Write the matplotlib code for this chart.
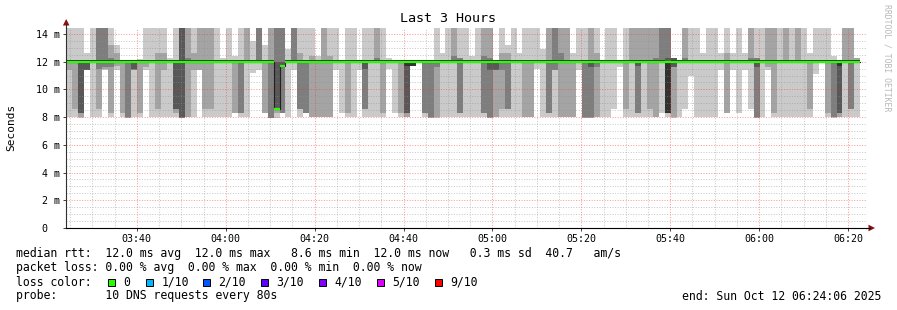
import matplotlib
matplotlib.use("Agg")
import matplotlib.pyplot as plt
import numpy as np
from matplotlib.patches import Rectangle, Polygon
from matplotlib.lines import Line2D

W, H = 897, 310
MONO = "DejaVu Sans Mono"

# ---------------- data ----------------
TITLE = "Last 3 Hours"
START_HMS = (3, 24, 6)          # graph start
SPAN_MIN = 180                  # 3 hours
STEP_S = 80                     # probe step
Y_MAX_MS = 14.45

# sorted 10 ping RTTs per step (ms)
PINGS_MS = [
    [8.0, 11.4, 11.9, 11.9, 11.9, 12.1, 12.1, 12.1, 12.1, 14.6],
    [8.0, 8.6, 11.9, 11.9, 11.9, 12.1, 12.1, 12.1, 12.1, 14.6],
    [7.9, 8.0, 8.3, 8.3, 11.9, 12.1, 12.1, 12.1, 12.1, 14.6],
    [11.4, 11.4, 11.4, 11.4, 11.9, 12.1, 12.1, 12.1, 12.1, 12.6],
    [8.0, 11.9, 11.9, 11.9, 11.9, 12.1, 12.1, 12.1, 12.1, 14.6],
    [8.0, 8.6, 11.5, 11.9, 11.9, 12.1, 12.1, 14.6, 14.6, 14.6],
    [11.4, 11.5, 11.6, 11.9, 11.9, 12.1, 12.1, 14.6, 14.6, 14.6],
    [8.0, 8.3, 11.6, 11.9, 11.9, 12.1, 12.1, 12.3, 13.2, 14.6],
    [11.4, 11.7, 11.9, 11.9, 11.9, 12.1, 12.1, 12.1, 12.6, 13.2],
    [8.0, 8.3, 11.9, 11.9, 11.9, 12.1, 12.1, 12.1, 12.1, 12.1],
    [7.9, 7.9, 8.0, 11.9, 11.9, 12.1, 12.1, 12.1, 12.1, 12.1],
    [8.0, 11.4, 11.4, 11.5, 11.9, 12.1, 12.1, 12.1, 12.1, 12.1],
    [8.0, 8.3, 11.9, 11.9, 11.9, 12.1, 12.1, 12.1, 12.1, 12.2],
    [11.4, 11.6, 11.9, 11.9, 11.9, 12.1, 12.1, 12.1, 12.1, 14.6],
    [8.0, 11.9, 11.9, 11.9, 11.9, 12.1, 12.1, 12.1, 12.1, 14.6],
    [8.0, 8.6, 11.9, 11.9, 11.9, 12.1, 12.1, 12.1, 12.6, 14.6],
    [8.0, 11.4, 11.9, 11.9, 11.9, 12.1, 12.1, 12.1, 12.6, 14.6],
    [8.0, 11.9, 11.9, 11.9, 11.9, 12.1, 12.1, 12.1, 12.1, 12.3],
    [8.0, 8.3, 8.6, 8.6, 11.9, 12.1, 12.1, 12.1, 12.1, 14.6],
    [7.9, 7.9, 7.9, 8.0, 11.9, 12.1, 14.6, 14.6, 14.6, 14.6],
    [8.0, 8.0, 11.9, 11.9, 11.9, 12.1, 12.1, 12.3, 14.6, 14.6],
    [8.0, 11.4, 11.9, 11.9, 11.9, 12.1, 12.1, 12.1, 12.6, 14.6],
    [11.4, 11.4, 11.9, 11.9, 11.9, 12.1, 12.1, 12.1, 14.6, 14.6],
    [8.0, 8.6, 11.9, 11.9, 11.9, 12.1, 12.1, 12.1, 14.6, 14.6],
    [8.0, 8.6, 11.9, 11.9, 11.9, 12.1, 12.1, 12.1, 14.6, 14.6],
    [8.0, 11.9, 11.9, 11.9, 11.9, 12.1, 12.1, 12.1, 12.1, 14.6],
    [8.0, 11.9, 11.9, 11.9, 11.9, 12.1, 12.1, 12.1, 12.1, 12.3],
    [8.0, 11.9, 11.9, 11.9, 11.9, 12.1, 12.1, 12.1, 12.1, 14.6],
    [8.3, 8.3, 11.9, 11.9, 11.9, 12.1, 12.1, 12.1, 12.1, 12.4],
    [8.0, 8.3, 8.3, 11.9, 11.9, 12.1, 12.1, 12.1, 12.1, 14.6],
    [8.0, 11.9, 11.9, 11.9, 11.9, 12.1, 12.1, 12.1, 14.6, 14.6],
    [11.2, 11.9, 11.9, 11.9, 11.9, 12.1, 12.1, 12.1, 12.1, 13.5],
    [11.4, 11.9, 11.9, 11.9, 11.9, 12.1, 12.1, 14.6, 14.6, 14.6],
    [8.3, 8.3, 11.9, 11.9, 11.9, 12.1, 12.1, 12.1, 12.1, 13.2],
    [7.9, 7.9, 7.95, 11.9, 11.9, 12.1, 12.1, 12.1, 14.6, 14.6],
    [7.9, 8.3, 8.6, 8.6, 8.6, 8.6, 12.0, 14.6, 14.6, 14.6],
    [8.3, 8.3, 8.3, 11.7, 11.7, 11.7, 12.0, 14.6, 14.6, 14.6],
    [8.0, 11.9, 11.9, 11.9, 11.9, 12.1, 12.1, 12.1, 12.1, 12.9],
    [11.4, 11.9, 11.9, 11.9, 11.9, 12.1, 12.1, 14.6, 14.6, 14.6],
    [8.0, 8.6, 8.6, 11.9, 11.9, 12.1, 12.1, 12.1, 12.6, 14.6],
    [8.3, 8.3, 8.3, 11.9, 11.9, 12.1, 12.1, 12.1, 12.1, 14.6],
    [8.0, 8.0, 11.9, 11.9, 11.9, 12.1, 12.1, 12.1, 12.4, 14.6],
    [8.0, 8.0, 11.9, 11.9, 11.9, 12.1, 12.1, 12.1, 12.1, 12.4],
    [8.0, 8.0, 11.9, 11.9, 11.9, 12.1, 12.1, 12.1, 14.6, 14.6],
    [8.0, 8.0, 11.9, 11.9, 11.9, 12.1, 12.1, 12.1, 12.4, 14.6],
    [11.4, 11.9, 11.9, 11.9, 11.9, 12.1, 12.1, 12.1, 12.1, 14.6],
    [8.3, 11.9, 11.9, 11.9, 11.9, 12.1, 12.1, 12.1, 12.1, 12.1],
    [8.0, 8.3, 11.9, 11.9, 11.9, 12.1, 12.1, 12.1, 12.1, 14.6],
    [8.0, 11.9, 11.9, 11.9, 11.9, 12.1, 12.1, 12.1, 12.1, 14.6],
    [11.4, 11.9, 11.9, 11.9, 11.9, 12.1, 12.1, 12.1, 12.1, 12.1],
    [8.0, 8.6, 8.6, 11.5, 11.9, 12.1, 12.1, 12.1, 12.1, 14.6],
    [8.0, 11.9, 11.9, 11.9, 11.9, 12.1, 12.1, 12.1, 12.1, 14.6],
    [8.0, 11.9, 11.9, 11.9, 11.9, 12.1, 12.1, 12.3, 14.6, 14.6],
    [8.0, 8.3, 11.9, 11.9, 11.9, 12.1, 12.1, 12.1, 12.1, 14.6],
    [11.5, 11.9, 11.9, 11.9, 11.9, 12.1, 12.1, 12.1, 12.1, 12.3],
    [8.3, 11.9, 11.9, 11.9, 11.9, 12.1, 12.1, 12.1, 12.1, 12.1],
    [8.0, 8.3, 11.9, 11.9, 11.9, 12.1, 12.1, 12.1, 12.1, 12.1],
    [8.0, 8.0, 8.3, 8.3, 11.7, 12.1, 12.1, 12.1, 12.1, 12.1],
    [11.7, 11.7, 11.7, 11.7, 11.7, 12.1, 12.1, 12.1, 12.1, 12.1],
    [11.9, 11.9, 11.9, 11.9, 11.9, 12.1, 12.1, 12.1, 12.1, 12.1],
    [8.0, 8.3, 8.3, 11.9, 11.9, 12.1, 12.1, 12.1, 12.1, 12.1],
    [7.9, 7.9, 8.0, 11.9, 11.9, 12.1, 12.1, 12.1, 12.1, 12.1],
    [7.9, 8.0, 11.6, 11.9, 11.9, 12.1, 12.1, 12.1, 12.1, 14.6],
    [8.0, 11.9, 11.9, 11.9, 11.9, 12.1, 12.1, 12.1, 12.1, 12.6],
    [8.0, 11.9, 11.9, 11.9, 11.9, 12.1, 12.1, 12.1, 12.1, 14.6],
    [8.0, 11.9, 11.9, 11.9, 11.9, 12.1, 12.1, 12.4, 14.6, 14.6],
    [8.0, 8.3, 8.3, 11.9, 11.9, 12.1, 12.1, 12.3, 12.3, 14.6],
    [8.0, 11.9, 11.9, 11.9, 11.9, 12.1, 12.1, 12.1, 12.1, 14.6],
    [8.0, 11.9, 11.9, 11.9, 11.9, 12.1, 12.1, 12.1, 12.1, 12.4],
    [8.0, 11.9, 11.9, 11.9, 11.9, 12.1, 12.1, 12.1, 12.1, 14.6],
    [8.0, 8.3, 8.3, 11.9, 11.9, 12.1, 12.1, 12.4, 14.6, 14.6],
    [7.9, 7.9, 8.0, 11.4, 11.9, 12.1, 12.1, 12.3, 14.6, 14.6],
    [8.0, 8.0, 11.4, 11.4, 11.9, 12.1, 12.1, 12.1, 12.1, 12.1],
    [8.0, 8.6, 11.4, 11.9, 11.9, 12.1, 12.1, 12.1, 12.6, 14.6],
    [8.0, 8.6, 8.6, 11.9, 11.9, 12.1, 12.1, 12.1, 12.6, 13.2],
    [8.0, 11.9, 11.9, 11.9, 11.9, 12.1, 12.1, 12.1, 12.1, 14.6],
    [8.0, 11.9, 11.9, 11.9, 11.9, 12.1, 12.1, 12.1, 12.1, 12.6],
    [8.0, 8.0, 11.9, 11.9, 11.9, 12.1, 12.1, 12.1, 12.1, 14.6],
    [8.0, 8.0, 11.9, 11.9, 11.9, 12.1, 12.1, 12.1, 12.1, 14.6],
    [11.5, 11.9, 11.9, 11.9, 11.9, 12.1, 12.1, 12.1, 12.1, 14.6],
    [8.0, 11.9, 11.9, 11.9, 11.9, 12.1, 12.1, 12.1, 12.1, 12.9],
    [8.0, 8.3, 8.3, 11.9, 11.9, 12.1, 12.1, 12.1, 14.6, 14.6],
    [8.0, 11.4, 11.4, 11.9, 11.9, 12.1, 12.1, 14.6, 14.6, 14.6],
    [8.0, 8.0, 11.9, 11.9, 11.9, 12.1, 12.1, 12.6, 14.6, 14.6],
    [8.0, 8.0, 11.9, 11.9, 11.9, 12.1, 12.1, 12.1, 14.6, 14.6],
    [8.0, 8.0, 11.9, 11.9, 11.9, 12.1, 12.1, 12.1, 12.1, 12.6],
    [11.4, 11.9, 11.9, 11.9, 11.9, 12.1, 12.1, 12.1, 12.1, 14.6],
    [7.9, 7.9, 8.0, 11.9, 11.9, 12.1, 12.1, 12.1, 12.1, 14.6],
    [7.9, 7.9, 8.0, 11.6, 11.9, 12.1, 12.1, 12.1, 14.6, 14.6],
    [8.0, 8.0, 11.6, 11.9, 11.9, 12.1, 12.1, 12.1, 12.6, 14.6],
    [8.0, 11.9, 11.9, 11.9, 11.9, 12.1, 12.1, 12.1, 12.1, 12.1],
    [8.0, 11.9, 11.9, 11.9, 11.9, 12.1, 12.1, 12.1, 12.1, 14.6],
    [8.6, 11.9, 11.9, 11.9, 11.9, 12.1, 12.1, 12.1, 12.1, 14.6],
    [11.6, 11.9, 11.9, 11.9, 11.9, 12.1, 12.1, 12.1, 12.1, 12.1],
    [8.0, 8.6, 11.9, 11.9, 11.9, 12.1, 12.1, 12.1, 12.1, 14.6],
    [8.0, 11.9, 11.9, 11.9, 11.9, 12.1, 12.1, 12.1, 14.6, 14.6],
    [8.0, 8.3, 8.3, 11.7, 11.9, 12.1, 12.1, 12.1, 14.6, 14.6],
    [8.0, 11.9, 11.9, 11.9, 11.9, 12.1, 12.1, 12.1, 14.6, 14.6],
    [8.0, 8.6, 11.9, 11.9, 11.9, 12.1, 12.1, 12.1, 14.6, 14.6],
    [8.0, 8.0, 11.9, 11.9, 11.9, 12.1, 12.1, 12.3, 14.6, 14.6],
    [8.3, 11.9, 11.9, 11.9, 11.9, 12.1, 12.1, 14.6, 14.6, 14.6],
    [8.0, 8.3, 8.3, 8.3, 8.3, 11.9, 12.3, 14.6, 14.6, 14.6],
    [7.9, 8.0, 11.6, 11.6, 11.9, 12.1, 12.3, 12.3, 12.3, 12.3],
    [8.0, 11.9, 11.9, 11.9, 11.9, 12.1, 12.1, 12.1, 12.1, 12.1],
    [8.6, 11.9, 11.9, 11.9, 11.9, 12.1, 12.1, 12.3, 14.6, 14.6],
    [11.0, 11.9, 11.9, 11.9, 11.9, 12.1, 12.1, 12.1, 12.1, 14.6],
    [8.0, 11.9, 11.9, 11.9, 11.9, 12.1, 12.1, 12.1, 12.1, 14.6],
    [8.0, 11.9, 11.9, 11.9, 11.9, 12.1, 12.1, 12.1, 12.1, 12.6],
    [8.0, 11.9, 11.9, 11.9, 11.9, 12.1, 12.1, 12.1, 12.1, 14.6],
    [8.0, 11.9, 11.9, 11.9, 11.9, 12.1, 12.1, 12.1, 12.1, 14.6],
    [11.4, 11.9, 11.9, 11.9, 11.9, 12.1, 12.1, 12.1, 12.1, 12.6],
    [8.3, 8.3, 11.9, 11.9, 11.9, 12.1, 12.1, 12.1, 12.6, 14.6],
    [11.4, 11.9, 11.9, 11.9, 11.9, 12.1, 12.1, 12.1, 12.1, 12.6],
    [8.3, 11.9, 11.9, 11.9, 11.9, 12.1, 12.1, 12.1, 12.1, 14.6],
    [11.4, 11.9, 11.9, 11.9, 11.9, 12.1, 12.1, 12.1, 12.1, 12.6],
    [8.6, 11.9, 11.9, 11.9, 11.9, 12.1, 12.1, 12.3, 14.6, 14.6],
    [7.9, 7.9, 8.0, 11.6, 11.9, 12.1, 12.1, 12.3, 12.3, 14.6],
    [8.0, 11.9, 11.9, 11.9, 11.9, 12.1, 12.1, 12.1, 12.1, 14.6],
    [11.4, 11.6, 11.9, 11.9, 11.9, 12.1, 12.1, 12.1, 14.6, 14.6],
    [8.0, 8.3, 11.9, 11.9, 11.9, 12.1, 12.1, 12.1, 14.6, 14.6],
    [8.0, 11.9, 11.9, 11.9, 11.9, 12.1, 12.1, 12.1, 12.1, 14.6],
    [8.0, 11.9, 11.9, 11.9, 11.9, 12.1, 12.1, 12.1, 14.6, 14.6],
    [8.0, 11.9, 11.9, 11.9, 11.9, 12.1, 12.1, 12.1, 12.1, 14.6],
    [8.0, 11.9, 11.9, 11.9, 11.9, 12.1, 12.1, 12.1, 14.6, 14.6],
    [8.0, 11.9, 11.9, 11.9, 11.9, 12.1, 12.1, 12.1, 12.1, 14.6],
    [8.0, 8.6, 11.9, 11.9, 11.9, 12.1, 12.1, 12.1, 12.1, 12.6],
    [11.1, 11.9, 11.9, 11.9, 11.9, 12.1, 12.1, 12.1, 12.1, 14.6],
    [11.9, 11.9, 11.9, 11.9, 11.9, 12.1, 12.1, 12.1, 12.1, 14.6],
    [8.0, 8.3, 11.9, 11.9, 11.9, 12.1, 12.1, 12.1, 12.1, 14.6],
    [7.9, 8.0, 8.0, 11.9, 11.9, 12.1, 12.1, 12.1, 12.1, 12.4],
    [8.0, 8.0, 8.3, 8.3, 11.7, 12.1, 12.1, 12.1, 12.1, 12.1],
    [8.0, 11.9, 11.9, 11.9, 11.9, 12.1, 12.1, 12.1, 14.6, 14.6],
    [8.0, 8.6, 8.6, 11.9, 11.9, 12.1, 12.1, 12.1, 14.6, 14.6],
    [8.0, 11.9, 11.9, 11.9, 11.9, 12.1, 12.1, 12.1, 12.3, 12.3],
]

# median RTT per step (ms)
MEDIAN_MS = [
    12.0, 12.0, 12.0, 12.0, 12.0, 12.0, 12.0, 12.0, 12.0, 12.0,
    12.0, 12.0, 12.0, 12.0, 12.0, 12.0, 12.0, 12.0, 12.0, 12.0,
    12.0, 12.0, 12.0, 12.0, 12.0, 12.0, 12.0, 12.0, 12.0, 12.0,
    12.0, 12.0, 12.0, 12.0, 12.0, 8.6, 11.7, 12.0, 12.0, 12.0,
    12.0, 12.0, 12.0, 12.0, 12.0, 12.0, 12.0, 12.0, 12.0, 12.0,
    12.0, 12.0, 12.0, 12.0, 12.0, 12.0, 12.0, 12.0, 12.0, 12.0,
    12.0, 12.0, 12.0, 12.0, 12.0, 12.0, 12.0, 12.0, 12.0, 12.0,
    12.0, 12.0, 12.0, 12.0, 12.0, 12.0, 12.0, 12.0, 12.0, 12.0,
    12.0, 12.0, 12.0, 12.0, 12.0, 12.0, 12.0, 12.0, 12.0, 12.0,
    12.0, 12.0, 12.0, 12.0, 12.0, 12.0, 12.0, 12.0, 12.0, 12.0,
    12.0, 12.0, 12.0, 12.0, 12.0, 12.0, 12.0, 12.0, 12.0, 12.0,
    12.0, 12.0, 12.0, 12.0, 12.0, 12.0, 12.0, 12.0, 12.0, 12.0,
    12.0, 12.0, 12.0, 12.0, 12.0, 12.0, 12.0, 12.0, 12.0, 12.0,
    12.0, 12.0, 12.0, 12.0,
]

SMOKE_COLORS = ["#cacaca", "#a4a4a4", "#7e7e7e", "#585858", "#323232"]
MEDIAN_COLOR = "#26ff00"

XTICK_LABELS = ["03:40", "04:00", "04:20", "04:40", "05:00",
                "05:20", "05:40", "06:00", "06:20"]
YTICK_VALUES = [0, 2, 4, 6, 8, 10, 12, 14]
YTICK_LABELS = ["0  ", " 2 m", " 4 m", " 6 m", " 8 m", "10 m", "12 m", "14 m"]

LOSS_LABELS = ["0", "1/10", "2/10", "3/10", "4/10", "5/10", "9/10"]
LOSS_COLORS = ["#26ff00", "#00b8ff", "#0059ff", "#5e00ff",
               "#7e00ff", "#dd00ff", "#ff0000"]

LINE_RTT = ("median rtt:  12.0 ms avg  12.0 ms max   8.6 ms min  "
            "12.0 ms now   0.3 ms sd  40.7   am/s")
LINE_LOSS = "packet loss: 0.00 % avg  0.00 % max  0.00 % min  0.00 % now"
LINE_COLOR = "loss color:"
LINE_PROBE = "probe:       10 DNS requests every 80s"
END_TEXT = "end: Sun Oct 12 06:24:06 2025"

# ---------------- figure ----------------
def fx(x):
    return x / W

def fy(y):
    return 1 - y / H

fig = plt.figure(figsize=(W / 100, H / 100), dpi=100)
fig.patch.set_facecolor("white")

X0, X1, Y0, Y1 = 66.2, 866.2, 228.0, 27.7
ax = fig.add_axes([fx(X0), fy(Y0), (X1 - X0) / W, (Y0 - Y1) / H])
ax.set_facecolor("white")

start_min = START_HMS[0] * 60 + START_HMS[1] + START_HMS[2] / 60.0
ax.set_xlim(start_min, start_min + SPAN_MIN)
ax.set_ylim(0, Y_MAX_MS)

P = np.array(PINGS_MS)
n = P.shape[0]
edges = start_min + np.arange(n + 1) * STEP_S / 60.0

for i, col in enumerate(SMOKE_COLORS):
    lo = np.append(P[:, i], P[-1, i])
    hi = np.append(P[:, 9 - i], P[-1, 9 - i])
    ax.fill_between(edges, lo, hi, step="post", color=col,
                    linewidth=0, zorder=1)

med = np.array(MEDIAN_MS)
ax.step(edges, np.append(med, med[-1]), where="post",
        color="#202020", lw=0.8, zorder=4)
ax.hlines(med, edges[:-1], edges[1:], colors=MEDIAN_COLOR, lw=1.6,
          zorder=5, capstyle="butt")

# ticks & grid
def hm(s):
    h, m = s.split(":")
    return int(h) * 60 + int(m)

ax.set_xticks([hm(s) for s in XTICK_LABELS])
ax.set_xticklabels(XTICK_LABELS, family=MONO, fontsize=7.2)
ax.set_xticks(np.arange(hm("03:25"), start_min + SPAN_MIN, 5), minor=True)
ax.set_yticks(YTICK_VALUES)
ax.set_yticklabels(YTICK_LABELS, family=MONO, fontsize=7.2)
ax.set_yticks(np.arange(0.5, Y_MAX_MS, 0.5), minor=True)

ax.tick_params(axis="both", which="major", length=2, width=0.7,
               color="#404040", direction="out")
ax.tick_params(axis="x", which="major", pad=2.5)
ax.tick_params(axis="y", which="major", pad=2.2)
ax.tick_params(axis="both", which="minor", length=0)

ax.set_axisbelow(False)
ax.grid(which="minor", color="#909090", alpha=0.5, lw=0.72,
        linestyle=(0, (1, 1.6)))
ax.grid(which="major", color="#ff3030", alpha=0.5, lw=0.72,
        linestyle=(0, (1, 1.6)))

for s in ["top", "right"]:
    ax.spines[s].set_visible(False)
ax.spines["left"].set_color("#303030")
ax.spines["bottom"].set_color("#000000")
ax.spines["left"].set_linewidth(0.8)
ax.spines["bottom"].set_linewidth(0.8)
ax.spines["left"].set_zorder(6)
ax.spines["bottom"].set_zorder(6)

# axis extensions and arrows
fig.add_artist(Line2D([fx(X0), fx(X0)], [fy(Y1), fy(24)], color="#303030", lw=0.8))
fig.add_artist(Line2D([fx(X1), fx(870)], [fy(Y0), fy(Y0)], color="#000000", lw=0.8))
ARROW = "#8b1010"
fig.add_artist(Polygon([[fx(X0), fy(19)], [fx(X0 - 3.3), fy(25.5)], [fx(X0 + 3.3), fy(25.5)]],
                       closed=True, color=ARROW, lw=0))
fig.add_artist(Polygon([[fx(875), fy(Y0)], [fx(868.5), fy(Y0 - 3.3)], [fx(868.5), fy(Y0 + 3.3)]],
                       closed=True, color=ARROW, lw=0))

# texts
fig.text(fx(448), fy(19), TITLE, family=MONO, fontsize=9.6,
         ha="center", va="center")
fig.text(fx(11), fy(127), "Seconds", family=MONO, fontsize=8.0,
         rotation=90, ha="center", va="center")
fig.text(fx(886.5), fy(4), "RRDTOOL / TOBI OETIKER", family=MONO,
         fontsize=5.9, rotation=270, ha="center", va="top", color="#b8b8b8")

TXT = dict(family=MONO, fontsize=8.3, ha="left", va="center")
fig.text(fx(16), fy(254), LINE_RTT, **TXT)
fig.text(fx(16), fy(268), LINE_LOSS, **TXT)
fig.text(fx(16), fy(282), LINE_COLOR, **TXT)
fig.text(fx(16), fy(296), LINE_PROBE, **TXT)
fig.text(fx(881), fy(296), END_TEXT, family=MONO, fontsize=8.3,
         ha="right", va="center")

box_x = [108, 146, 203, 261, 319, 377, 435]
for bx, lab, col in zip(box_x, LOSS_LABELS, LOSS_COLORS):
    fig.add_artist(Rectangle((fx(bx), fy(285.5)), 7 / W, 7 / H,
                             facecolor=col, edgecolor="black", lw=0.7))
    fig.text(fx(bx + 15.5), fy(282), lab, **TXT)

fig.savefig("out.png", dpi=100, facecolor="white")
